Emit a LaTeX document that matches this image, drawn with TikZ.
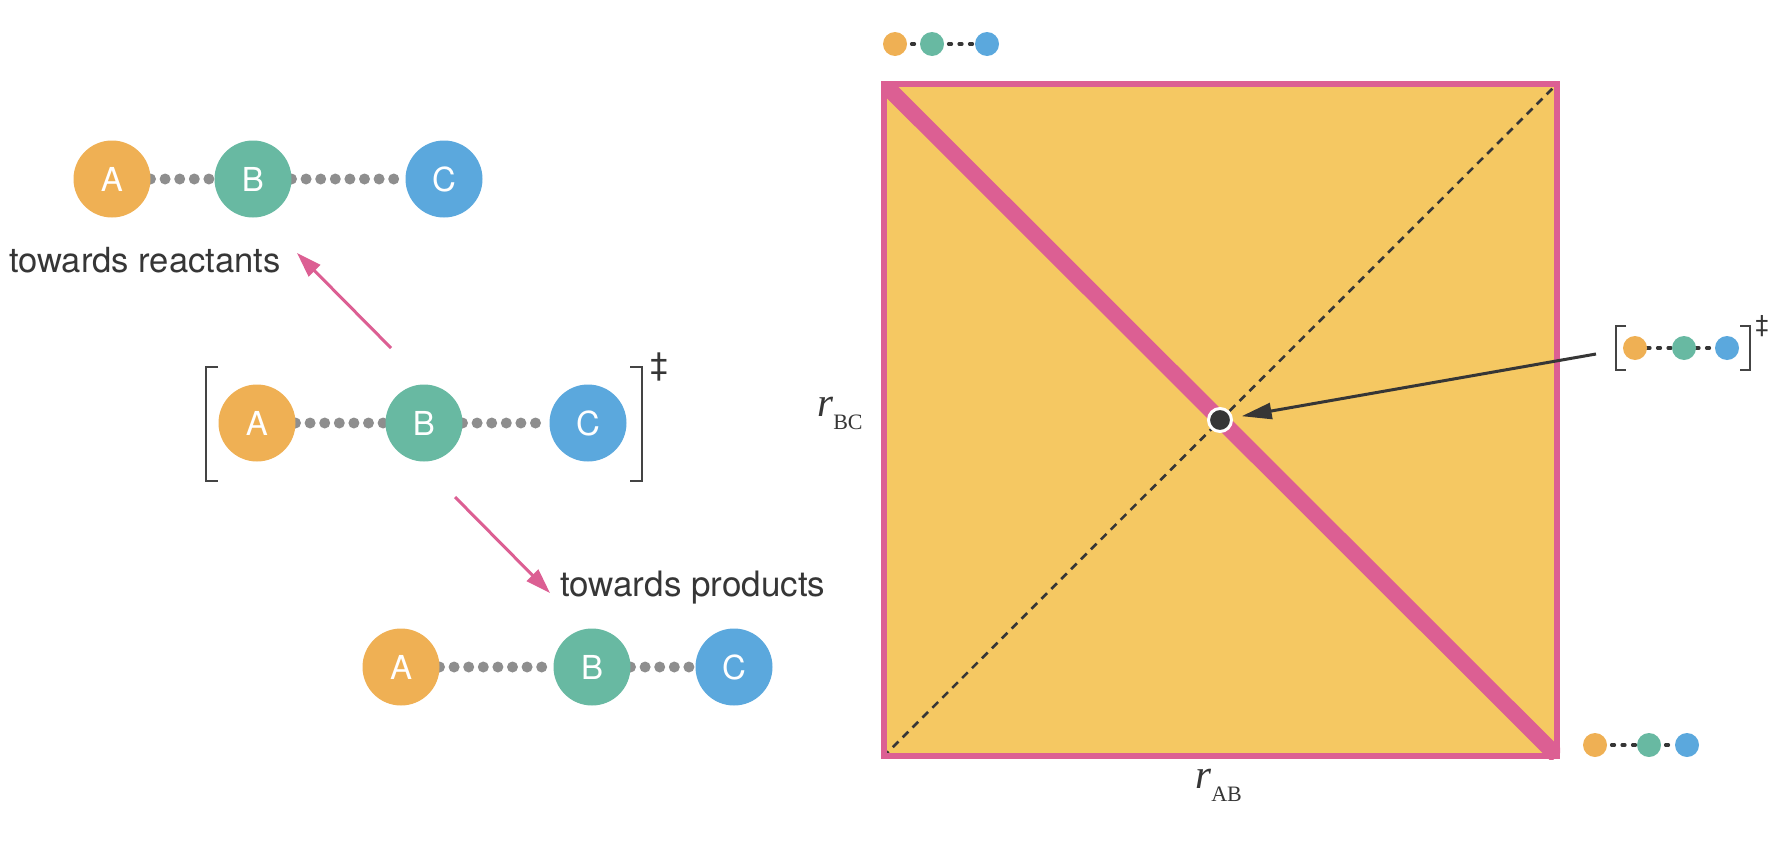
\documentclass[tikz,border=0pt]{standalone}
\usepackage{fontspec}
\setmainfont{TeX Gyre Heros}
\newfontfamily\serifface{Liberation Serif}
\usetikzlibrary{arrows.meta,backgrounds}
\definecolor{cA}{HTML}{EFB054}
\definecolor{cB}{HTML}{68B9A2}
\definecolor{cC}{HTML}{5BA8DD}
\definecolor{pinkc}{HTML}{DC5F93}
\definecolor{sqfill}{HTML}{F5C862}
\definecolor{darkc}{HTML}{363636}
\definecolor{brkc}{HTML}{444444}
\definecolor{dotc}{HTML}{8E8E8E}
\tikzset{
  atom/.style={circle,minimum size=77pt,inner sep=0pt,outer sep=0pt,text=white,font=\fontsize{33}{36}\selectfont},
  mini/.style={circle,minimum size=24pt,inner sep=0pt,outer sep=0pt},
  bond/.style={draw=dotc,line width=11pt,line cap=round,dash pattern=on 0pt off 14.6pt},
  minibond/.style={draw=darkc,line width=3.2pt,line cap=round,dash pattern=on 3pt off 7.5pt},
  midgap/.style={dash phase=6pt},
  brk/.style={draw=brkc,line width=2.8pt},
  reaction/.style={draw=pinkc,line width=3pt,-{Triangle[length=25pt,width=16pt]}},
  lab/.style={text=darkc,anchor=base west,inner sep=0pt,font=\fontsize{34.6}{40}\selectfont},
  dagg/.style={text=darkc,inner sep=0pt},
  rlab/.style={text=darkc,anchor=base west,inner sep=0pt,font=\serifface\fontsize{41}{44}\selectfont}
}
\newcommand{\rsub}[1]{\textit{r}\raisebox{-13.5pt}{\fontsize{22}{24}\selectfont #1}}
\begin{document}
\begin{tikzpicture}[x=1pt,y=-1pt]
\useasboundingbox (0,0) rectangle (1788,846);
% left molecules
\node[atom,fill=cA] (a1) at (112,179) {A};
\node[atom,fill=cB] (b1) at (253,179) {B};
\node[atom,fill=cC] (c1) at (444,179) {C};
\node[atom,fill=cA] (a2) at (257,423) {A};
\node[atom,fill=cB] (b2) at (424,423) {B};
\node[atom,fill=cC] (c2) at (588,423) {C};
\node[atom,fill=cA] (a3) at (401,667) {A};
\node[atom,fill=cB] (b3) at (592,667) {B};
\node[atom,fill=cC] (c3) at (734,667) {C};
\begin{pgfonlayer}{background}
\draw[bond] (a1) -- (b1);
\draw[bond] (b1) -- (c1);
\draw[bond] (a2) -- (b2);
\draw[bond] (b2) -- (c2);
\draw[bond] (a3) -- (b3);
\draw[bond] (b3) -- (c3);
\end{pgfonlayer}
\draw[brk] (218,367) -- (206,367) -- (206,481) -- (218,481);
\draw[brk] (630,367) -- (642,367) -- (642,481) -- (630,481);
\node[dagg,font=\fontsize{32}{36}\selectfont] (dg) at (659,367) {‡};
\node[lab] (tr) at (9,272) {towards reactants};
\node[lab,font=\fontsize{35}{40}\selectfont] (tp) at (560,596) {towards products};
\coordinate (u0) at (391,348);
\coordinate (u1) at (297,253);
\coordinate (d0) at (455,497);
\coordinate (d1) at (550,593);
\draw[reaction] (u0) -- (u1);
\draw[reaction] (d0) -- (d1);
% square
\node[rectangle,fill=sqfill,minimum width=673pt,minimum height=672pt,inner sep=0pt,outer sep=0pt] (sq) at (1220.5,420) {};
\draw[darkc,line width=2.6pt,dash pattern=on 8pt off 6pt,dash phase=1.6pt] (sq.south west) -- (sq.north east);
\begin{scope}
\clip (881,81) rectangle (1560,759);
\draw[pinkc,line width=16pt] (sq.north west) -- (sq.south east);
\end{scope}
\draw[pinkc,line width=6.5pt] (sq.north west) rectangle (sq.south east);
\node[circle,fill=darkc,draw=white,line width=3pt,minimum size=23pt,inner sep=0pt,outer sep=0pt] (ts) at (1220,420) {};
\coordinate (p0) at (1596,354);
\draw[darkc,line width=3pt,shorten >=10.5pt,-{Triangle[length=30pt,width=16pt]}] (p0) -- (ts);
\node[rlab] (rab) at (1195,788) {\rsub{AB}};
\node[rlab] (rbc) at (817,416) {\rsub{BC}};
% mini top
\node[mini,fill=cA] (ma1) at (895,44) {};
\node[mini,fill=cB] (mb1) at (932,44) {};
\node[mini,fill=cC] (mc1) at (987,44) {};
% mini right
\node[mini,fill=cA] (ma2) at (1635,348) {};
\node[mini,fill=cB] (mb2) at (1684,348) {};
\node[mini,fill=cC] (mc2) at (1727,348) {};
% mini bottom
\node[mini,fill=cA] (ma3) at (1595,745) {};
\node[mini,fill=cB] (mb3) at (1649,745) {};
\node[mini,fill=cC] (mc3) at (1687,745) {};
\begin{pgfonlayer}{background}
\draw[minibond,midgap] (ma1) -- (mb1);
\draw[minibond,midgap] (mb1) -- (mc1);
\draw[minibond] (ma2) -- (mb2);
\draw[minibond] (mb2) -- (mc2);
\draw[minibond,midgap] (ma3) -- (mb3);
\draw[minibond,midgap] (mb3) -- (mc3);
\end{pgfonlayer}
\draw[brk] (1626,326) -- (1616,326) -- (1616,370) -- (1626,370);
\draw[brk] (1740,326) -- (1750,326) -- (1750,370) -- (1740,370);
\node[dagg,font=\fontsize{24}{28}\selectfont] (dg2) at (1762,326) {‡};
\end{tikzpicture}
\end{document}
